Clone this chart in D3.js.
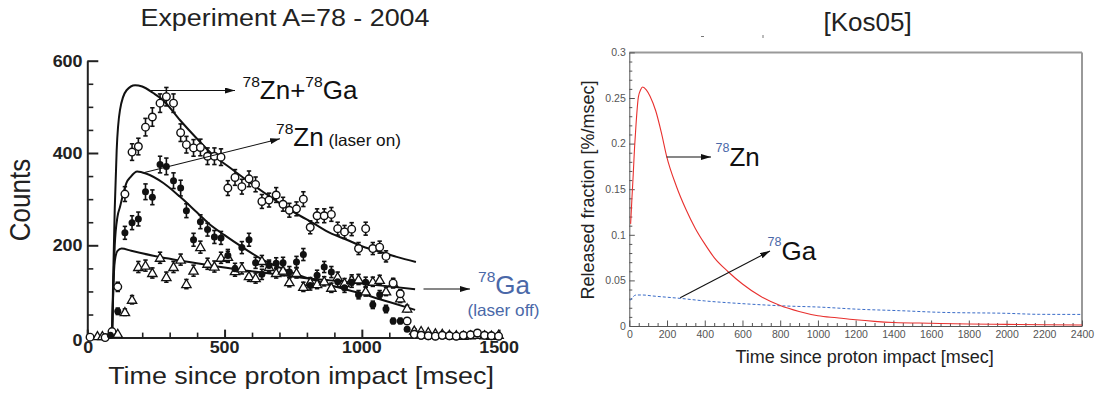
<!DOCTYPE html>
<html><head><meta charset="utf-8">
<script src="https://cdn.jsdelivr.net/npm/d3@7"></script>
<style>body{margin:0;background:#fff}svg{display:block;font-family:'Liberation Sans',Arial,sans-serif}</style>
</head><body><svg id="c" width="1101" height="399"></svg>
<script>
// ---------- Left panel data (Experiment A=78 - 2004) ----------
const leftXTicks = [0, 500, 1000, 1500];
const leftYTicks = [0, 200, 400, 600];
const binTimes = [111,137,163,186,212,237,265,288,314,340,361,387,412,438,463,487,512,538,563,589,613,636,662,688,713,736,762,787,812,837,863,889,912,937,963,988,1014,1040,1065,1088,1114,1140,1165,1191,1216,1242,1268,1293,1319,1344,1370,1396,1421,1447,1472,1498];
const zngaCounts = [110,311,402,414,456,478,508,522,508,444,418,411,412,393,393,391,324,347,327,344,332,295,298,309,289,276,279,300,239,264,264,267,236,229,235,193,236,193,196,176,118,95,36,7,5,4,3,5,4,3,5,6,10,5,4,3];
const zngaErr   = [10,16,18,18,19,20,20,20,20,19,18,18,18,18,18,18,16,17,16,17,16,15,15,16,15,15,15,16,14,15,15,15,14,14,14,13,14,13,13,12,10,9,6,3,2,2,2,2,2,2,2,2,3,2,2,2];
const znCounts  = [57,227,249,257,316,304,375,371,340,324,275,212,251,234,218,216,178,149,195,212,162,137,156,161,162,142,164,180,113,135,153,142,121,108,120,93,120,71,93,62,36,36,18,5,3,2,2,3,2,2,3,4,8,4,2,2];
const znErr     = [7,14,15,15,17,16,18,18,17,17,15,14,15,14,14,14,13,12,13,14,12,11,12,12,12,12,12,13,10,11,12,12,11,10,11,9,11,8,9,8,6,6,4,2,2,1,1,2,1,1,2,2,3,2,1,1];
const gaCounts  = [8,55,82,153,156,140,173,131,153,169,116,145,196,160,154,173,175,144,150,133,129,166,153,140,145,120,140,110,120,116,122,108,131,118,125,126,100,121,125,100,118,85,63,15,14,12,9,8,6,5,4,5,6,5,4,6];
const gaErr     = [3,7,9,12,12,11,12,11,12,12,10,12,13,12,12,12,12,11,12,11,11,12,12,11,11,10,11,10,10,10,10,10,11,10,11,11,10,10,10,9,10,9,7,4,3,3,3,2,2,2,2,2,2,2,2,2];
// points before the proton impact window
const preOpenT = [10, 65, 90];   const preOpenC = [1, 0, 13];
const preTriT  = [37, 55];       const preTriC  = [3, 3];
const preFillT = [84];           const preFillC = [5];
// fit curves
const fitZnGaT = [90,95,100,107,119,143,174,200,240,277,338,398,459,520,581,642,702,763,823,884,945,1005,1066,1127,1197];
const fitZnGaC = [0,150,280,406,493,536,547,544,530,514,471,432,395,368,341,315,291,268,248,227,212,197,186,175,164];
const fitZnT = [90,95,100,110,119,131,143,156,182,216,277,338,398,441,500,562,641,700,763,884,1000,1100,1194];
const fitZnC = [0,120,200,262,283,312,336,347,360,355,335,305,272,248,222,197,168,152,137,114,95,77,60];
const fitGaT = [90,95,100,110,125,160,259,338,459,581,702,823,884,1000,1100,1194];
const fitGaC = [0,110,165,188,193,188,175,167,155,145,136,127,124,117,111,105];

// ---------- Right panel data ([Kos05]) ----------
const rightXTicks = [0,200,400,600,800,1000,1200,1400,1600,1800,2000,2200,2400];
const rightYTicks = [0,0.05,0.1,0.15,0.2,0.25,0.3];
const znModelT = [7,14,21,28,36,48,60,71,90,110,140,170,198,250,300,350,400,450,524,600,700,800,900,1000,1100,1200,1300,1400,1600,1800,2000,2200,2400];
const znModelV = [0.112,0.14,0.167,0.196,0.222,0.251,0.259,0.262,0.259,0.252,0.236,0.212,0.186,0.153,0.128,0.107,0.09,0.075,0.0595,0.046,0.032,0.0225,0.016,0.0113,0.009,0.0068,0.0051,0.0039,0.003,0.0022,0.0018,0.0014,0.0011];
const gaModelT = [5,20,35,72,120,269,400,600,834,1000,1222,1434,1646,2000,2176,2400];
const gaModelV = [0.028,0.032,0.034,0.034,0.033,0.0303,0.0275,0.0245,0.0219,0.0208,0.0183,0.0168,0.015,0.0139,0.0128,0.0127];

const svg = d3.select('#c');
svg.append('rect').attr('width',1101).attr('height',399).attr('fill','#fff');
const defs = svg.append('defs');
defs.append('marker').attr('id','ah').attr('viewBox','0 -5 10 10').attr('refX',10).attr('refY',0)
  .attr('markerWidth',10).attr('markerHeight',6).attr('markerUnits','userSpaceOnUse')
  .attr('preserveAspectRatio','none').attr('orient','auto')
  .append('path').attr('d','M0,-5L10,0L0,5Z').attr('fill','#111');

const BLUE = '#4a68a8';
const SX = 1.12; // horizontal stretch of the left figure

function stext(g, x, y, opts, parts) {
  const t = g.append('text')
    .attr('transform', `translate(${x},${y}) scale(${opts.sx||1},1)` + (opts.rot ? ` rotate(${opts.rot})` : ''))
    .attr('text-anchor', opts.anchor || 'start')
    .attr('font-size', opts.size).attr('font-weight', opts.weight || 'normal')
    .attr('fill', opts.fill || '#111');
  if (typeof parts === 'string') t.text(parts);
  else parts.forEach(p => t.append('tspan').attr('font-size', p.size).attr('dy', p.dy || 0)
      .attr('fill', p.fill || null).text(p.t));
  return t;
}

// ================= LEFT PANEL =================
const xL = d3.scaleLinear([0,1500],[87.3,499.1]);
const yL = d3.scaleLinear([0,600],[337.6,60.7]);
const gL = svg.append('g');

function styleAxis(g, col, w) {
  g.selectAll('line').attr('stroke', col).attr('stroke-width', w);
  g.selectAll('path').attr('stroke', col).attr('stroke-width', w);
}
gL.append('g').attr('transform',`translate(${xL(0)},0)`)
  .call(d3.axisLeft(yL).tickValues(d3.range(50,600,50).filter(v=>v%200)).tickSize(-6).tickFormat(''))
  .call(g=>g.select('.domain').remove()).call(g=>styleAxis(g,'#222',1.6));
gL.append('g').attr('transform',`translate(${xL(0)},0)`)
  .call(d3.axisLeft(yL).tickValues(leftYTicks).tickSize(-11).tickSizeOuter(0).tickFormat(''))
  .call(g=>styleAxis(g,'#222',2));
gL.append('g').attr('transform',`translate(0,${yL(0)})`)
  .call(d3.axisBottom(xL).tickValues(d3.range(100,1500,100).filter(v=>v%500)).tickSize(-5).tickFormat(''))
  .call(g=>g.select('.domain').remove()).call(g=>styleAxis(g,'#222',1.6));
gL.append('g').attr('transform',`translate(0,${yL(0)})`)
  .call(d3.axisBottom(xL).tickValues(leftXTicks).tickSize(-8).tickSizeOuter(0).tickFormat(''))
  .call(g=>styleAxis(g,'#222',2));

leftYTicks.forEach(v => {
  if (v === 0) stext(gL, 82.5, 346, {sx:SX, anchor:'end', size:16, weight:'bold', fill:'#222'}, '0');
  else stext(gL, 82.5, yL(v)+6, {sx:SX, anchor:'end', size:16, weight:'bold', fill:'#222'}, String(v));
});
leftXTicks.forEach(v => stext(gL, xL(v)+(v===0?1:0), 353, {sx:SX, anchor:'middle', size:16, weight:'bold', fill:'#222'}, String(v)));

stext(gL, 285, 25.5, {sx:SX, anchor:'middle', size:24, fill:'#222'}, 'Experiment A=78 - 2004');
stext(gL, 301, 384, {sx:SX, anchor:'middle', size:24, fill:'#222'}, 'Time since proton impact [msec]');
stext(gL, 30, 200, {sx:SX, rot:-90, anchor:'middle', size:26, fill:'#222'}, 'Counts');

// fit curves
const lineL = d3.line().x(d=>xL(d[0])).y(d=>yL(d[1])).curve(d3.curveMonotoneX);
[[fitZnGaT,fitZnGaC],[fitZnT,fitZnC],[fitGaT,fitGaC]].forEach(([T,C]) => {
  gL.append('path').attr('d', lineL(T.map((t,i)=>[t,C[i]]))).attr('fill','none')
    .attr('stroke','#111').attr('stroke-width',2);
});

// error bars
function errBars(T, C, E) {
  const g = gL.append('g').attr('stroke','#111').attr('stroke-width',1.6);
  T.forEach((t,i) => {
    if (E[i] < 4) return;
    const x = xL(t), y0 = yL(C[i]-E[i]), y1 = yL(C[i]+E[i]);
    g.append('line').attr('x1',x).attr('x2',x).attr('y1',y0).attr('y2',y1);
    g.append('line').attr('x1',x-2.2).attr('x2',x+2.2).attr('y1',y0).attr('y2',y0);
    g.append('line').attr('x1',x-2.2).attr('x2',x+2.2).attr('y1',y1).attr('y2',y1);
  });
}
errBars(binTimes, gaCounts, gaErr);
errBars(binTimes, znCounts, znErr);
errBars(binTimes, zngaCounts, zngaErr);

const tri = d3.symbol().type(d3.symbolTriangle).size(38);
function triangles(T, C) {
  gL.append('g').selectAll('path').data(T).join('path')
    .attr('transform',(t,i)=>`translate(${xL(t)},${yL(C[i])+0.8})`).attr('d',tri())
    .attr('fill','#fff').attr('stroke','#111').attr('stroke-width',1.3);
}
function filled(T, C) {
  gL.append('g').selectAll('circle').data(T).join('circle')
    .attr('cx',t=>xL(t)).attr('cy',(t,i)=>yL(C[i])).attr('r',3.5).attr('fill','#111');
}
function open(T, C) {
  gL.append('g').selectAll('circle').data(T).join('circle')
    .attr('cx',t=>xL(t)).attr('cy',(t,i)=>yL(C[i])).attr('r',3.8)
    .attr('fill','#fff').attr('stroke','#111').attr('stroke-width',1.4);
}
triangles(preTriT, preTriC); open(preOpenT, preOpenC); filled(preFillT, preFillC);
triangles(binTimes, gaCounts);
filled(binTimes, znCounts);
open(binTimes, zngaCounts);

// annotations left
function arrow(g, x1, y1, x2, y2) {
  g.append('line').attr('x1',x1).attr('y1',y1).attr('x2',x2).attr('y2',y2)
    .attr('stroke','#111').attr('stroke-width',1.1).attr('marker-end','url(#ah)');
}
arrow(gL, 150.5, 90.5, 235, 90.5);
stext(gL, 242.5, 99, {sx:1.04, size:25, fill:'#111'},
  [{t:'78',size:15,dy:-12},{t:'Zn+',size:25,dy:12},{t:'78',size:15,dy:-12},{t:'Ga',size:25,dy:12}]);
arrow(gL, 143.5, 172.7, 280, 138.8);
stext(gL, 276, 145.5, {sx:1.04, size:25, fill:'#111'},
  [{t:'78',size:15,dy:-12},{t:'Zn',size:25,dy:12},{t:' (laser on)',size:16.5,dy:0}]);
arrow(gL, 423.5, 289, 470, 289);
stext(gL, 478, 294, {sx:1.04, size:25, fill:BLUE},
  [{t:'78',size:15,dy:-12},{t:'Ga',size:25,dy:12}]);
stext(gL, 503.5, 316, {sx:1.04, anchor:'middle', size:16.5, fill:BLUE}, '(laser off)');

// ================= RIGHT PANEL =================
const xR = d3.scaleLinear([0,2400],[629.3,1082]);
const yR = d3.scaleLinear([0,0.3],[326,52.4]);
const gR = svg.append('g');

// frame top/right
gR.append('line').attr('x1',xR(0)).attr('x2',xR(2400)).attr('y1',yR(0.3)).attr('y2',yR(0.3)).attr('stroke','#999').attr('stroke-width',2);
gR.append('line').attr('x1',xR(2400)).attr('x2',xR(2400)).attr('y1',yR(0.3)).attr('y2',yR(0)).attr('stroke','#999').attr('stroke-width',2);

gR.append('g').attr('transform',`translate(0,${yR(0)})`)
  .call(d3.axisBottom(xR).tickValues(d3.range(50,2400,50).filter(v=>v%200)).tickSize(-3).tickFormat(''))
  .call(g=>g.select('.domain').remove()).call(g=>styleAxis(g,'#555',1));
gR.append('g').attr('transform',`translate(${xR(0)},0)`)
  .call(d3.axisLeft(yR).tickValues(d3.range(1,30).filter(v=>v%5).map(v=>v/100)).tickSize(-3).tickFormat(''))
  .call(g=>g.select('.domain').remove()).call(g=>styleAxis(g,'#555',1));
const axXR = gR.append('g').attr('transform',`translate(0,${yR(0)})`)
  .call(d3.axisBottom(xR).tickValues(rightXTicks).tickSize(-5.5).tickSizeOuter(0).tickPadding(5).tickFormat(d=>String(d)));
styleAxis(axXR,'#555',1);
axXR.selectAll('text').attr('font-size',10.5).attr('fill','#555').attr('font-family',"'Liberation Sans',Arial,sans-serif");
const axYR = gR.append('g').attr('transform',`translate(${xR(0)},0)`)
  .call(d3.axisLeft(yR).tickValues(rightYTicks).tickSize(-5.5).tickSizeOuter(0).tickPadding(3.5).tickFormat(d=>String(d)));
styleAxis(axYR,'#555',1);
axYR.selectAll('text').attr('font-size',10.5).attr('fill','#555').attr('font-family',"'Liberation Sans',Arial,sans-serif");

const lineR = d3.line().x(d=>xR(d[0])).y(d=>yR(d[1])).curve(d3.curveMonotoneX);
gR.append('path').attr('d', lineR(gaModelT.map((t,i)=>[t,gaModelV[i]]))).attr('fill','none')
  .attr('stroke','#3a6cc8').attr('stroke-width',1).attr('stroke-dasharray','3,2');
gR.append('path').attr('d', lineR(znModelT.map((t,i)=>[t,znModelV[i]]))).attr('fill','none')
  .attr('stroke','#e8302e').attr('stroke-width',1.1);

// small residual marks of the scanned figure
gR.append('line').attr('x1',701).attr('x2',704).attr('y1',36.5).attr('y2',36.5).attr('stroke','#777').attr('stroke-width',1);
gR.append('line').attr('x1',763).attr('x2',763).attr('y1',35).attr('y2',38).attr('stroke','#777').attr('stroke-width',1);

stext(gR, 867.6, 31, {anchor:'middle', size:26, fill:'#222'}, '[Kos05]');
stext(gR, 864.6, 362.5, {anchor:'middle', size:18, fill:'#222'}, 'Time since proton impact [msec]');
stext(gR, 594, 190, {anchor:'middle', rot:-90, size:18, fill:'#222'}, 'Released fraction [%/msec]');

arrow(gR, 666.6, 157, 711, 157);
stext(gR, 715.5, 166, {size:26, fill:'#111'}, [{t:'78',size:12.5,dy:-14,fill:BLUE},{t:'Zn',size:26,dy:14}]);
arrow(gR, 680.2, 297.7, 770, 251);
stext(gR, 767.5, 259.5, {size:26, fill:'#111'}, [{t:'78',size:12.5,dy:-14,fill:BLUE},{t:'Ga',size:26,dy:14}]);
</script></body></html>
